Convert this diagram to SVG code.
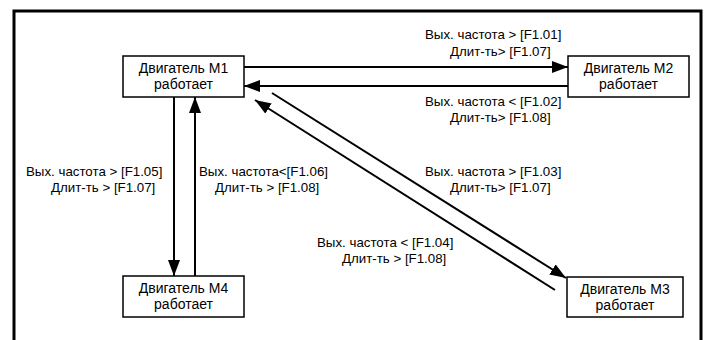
<svg xmlns="http://www.w3.org/2000/svg" width="707" height="340" viewBox="0 0 707 340">
  <defs>
    <style>
      .frame { fill: none; stroke: #000; stroke-width: 3; }
      .node rect { fill: #fff; stroke: #000; stroke-width: 1.5; }
      .node text { font-family: "Liberation Sans", Arial, sans-serif; font-size: 14px; fill: #000; text-anchor: middle; }
      .edge { stroke: #000; stroke-width: 2; fill: none; }
      .lbl { font-family: "Liberation Sans", Arial, sans-serif; font-size: 13.3px; fill: #000; }
    </style>
    <marker id="arrow" viewBox="0 0 16 12" refX="16" refY="6" markerWidth="16" markerHeight="12" markerUnits="userSpaceOnUse" orient="auto">
      <path d="M0,0 L16,6 L0,12 Z" fill="#000"/>
    </marker>
  </defs>

  <rect width="707" height="340" fill="#fff"/>
  <!-- outer frame, open at the bottom edge -->
  <rect class="frame" x="14" y="11" width="687" height="345"/>

  <!-- transitions between motor states -->
  <g id="connectors">
    <line class="edge" x1="244" y1="67" x2="568" y2="67" marker-end="url(#arrow)"/>
    <line class="edge" x1="568" y1="86" x2="244" y2="86" marker-end="url(#arrow)"/>
    <line class="edge" x1="174" y1="97" x2="174" y2="276" marker-end="url(#arrow)"/>
    <line class="edge" x1="195" y1="276" x2="195" y2="97" marker-end="url(#arrow)"/>
    <line class="edge" x1="272" y1="93" x2="566" y2="278" marker-end="url(#arrow)"/>
    <line class="edge" x1="555" y1="290" x2="255" y2="100" marker-end="url(#arrow)"/>
  </g>

  <g id="labels">
    <text class="lbl" x="425" y="39">Вых. частота &gt; [F1.01]</text>
    <text class="lbl" x="450" y="56">Длит-ть&gt; [F1.07]</text>
    <text class="lbl" x="425" y="106">Вых. частота &lt; [F1.02]</text>
    <text class="lbl" x="450" y="122">Длит-ть&gt; [F1.08]</text>
    <text class="lbl" x="26" y="176">Вых. частота &gt; [F1.05]</text>
    <text class="lbl" x="51" y="192">Длит-ть &gt; [F1.07]</text>
    <text class="lbl" x="199" y="176">Вых. частота&lt;[F1.06]</text>
    <text class="lbl" x="215" y="192">Длит-ть &gt; [F1.08]</text>
    <text class="lbl" x="425" y="176">Вых. частота &gt; [F1.03]</text>
    <text class="lbl" x="450" y="192">Длит-ть&gt; [F1.07]</text>
    <text class="lbl" x="317" y="247">Вых. частота &lt; [F1.04]</text>
    <text class="lbl" x="342" y="263">Длит-ть &gt; [F1.08]</text>
  </g>

  <g id="m1" class="node">
    <rect x="123" y="56" width="121" height="41"/>
    <text x="183.5" y="73">Двигатель M1</text>
    <text x="183.5" y="89">работает</text>
  </g>
  <g id="m2" class="node">
    <rect x="568" y="56" width="121" height="41"/>
    <text x="628.5" y="73">Двигатель M2</text>
    <text x="628.5" y="89">работает</text>
  </g>
  <g id="m3" class="node">
    <rect x="567" y="277" width="116" height="40"/>
    <text x="625" y="294">Двигатель M3</text>
    <text x="625" y="310">работает</text>
  </g>
  <g id="m4" class="node">
    <rect x="123" y="276" width="121" height="41"/>
    <text x="183.5" y="293">Двигатель M4</text>
    <text x="183.5" y="309">работает</text>
  </g>
</svg>
